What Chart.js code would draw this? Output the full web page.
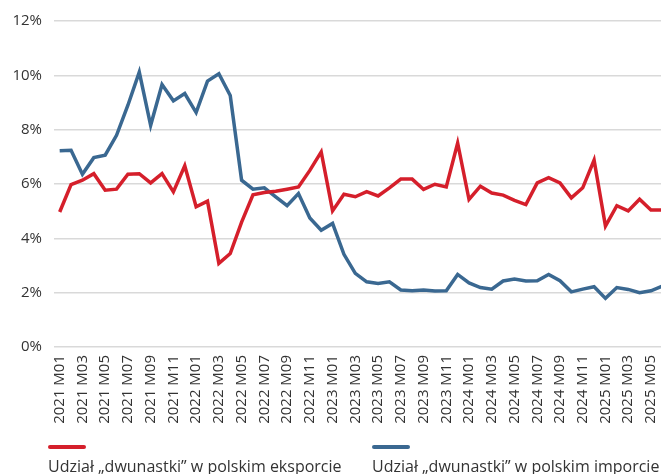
<!DOCTYPE html>
<html>
<head>
<meta charset="utf-8">
<script src="https://cdn.jsdelivr.net/npm/chart.js@4.4.1/dist/chart.umd.min.js"></script>
<style>
  html, body { margin: 0; padding: 0; background: #fff; overflow: hidden; }
  #wrap { position: relative; width: 661px; height: 474px; overflow: hidden; }
  #myChart { position: absolute; left: 0; top: 0; }
  .sw { position: absolute; top: 445px; width: 38px; height: 4px; border-radius: 2px; }
  .txt { position: absolute; top: 456px; font-family: 'Open Sans', sans-serif; font-size: 16px;
         line-height: 20px; color: #333; white-space: nowrap; }
</style>
</head>
<body>
<div id="wrap">
  <canvas id="myChart" width="668" height="474"></canvas>
  <div class="sw" style="left:48px;background:#d51f2b"></div>
  <div class="txt" style="left:48px">Udział „dwunastki” w polskim eksporcie</div>
  <div class="sw" style="left:372px;background:#3a6891"></div>
  <div class="txt" style="left:372px">Udział „dwunastki” w polskim imporcie</div>
</div>
<script>
// miesiące
const months = [
  '2021 M01', '2021 M02', '2021 M03', '2021 M04', '2021 M05', '2021 M06',
  '2021 M07', '2021 M08', '2021 M09', '2021 M10', '2021 M11', '2021 M12',
  '2022 M01', '2022 M02', '2022 M03', '2022 M04', '2022 M05', '2022 M06',
  '2022 M07', '2022 M08', '2022 M09', '2022 M10', '2022 M11', '2022 M12',
  '2023 M01', '2023 M02', '2023 M03', '2023 M04', '2023 M05', '2023 M06',
  '2023 M07', '2023 M08', '2023 M09', '2023 M10', '2023 M11', '2023 M12',
  '2024 M01', '2024 M02', '2024 M03', '2024 M04', '2024 M05', '2024 M06',
  '2024 M07', '2024 M08', '2024 M09', '2024 M10', '2024 M11', '2024 M12',
  '2025 M01', '2025 M02', '2025 M03', '2025 M04', '2025 M05', '2025 M06'
];

// udział w eksporcie (%)
const exportShare = [
  4.97, 5.98, 6.14, 6.38, 5.77, 5.81, 6.36, 6.38, 6.04, 6.38, 5.71, 6.67,
  5.16, 5.37, 3.08, 3.44, 4.60, 5.60, 5.69, 5.73, 5.81, 5.89, 6.50, 7.18,
  5.01, 5.62, 5.53, 5.72, 5.56, 5.86, 6.18, 6.18, 5.80, 5.99, 5.89, 7.51,
  5.43, 5.92, 5.67, 5.59, 5.40, 5.24, 6.04, 6.23, 6.04, 5.49, 5.86, 6.88,
  4.45, 5.20, 5.01, 5.44, 5.04, 5.04
];

// udział w imporcie (%)
const importShare = [
  7.22, 7.24, 6.36, 6.97, 7.06, 7.79, 8.90, 10.12, 8.16, 9.66, 9.06, 9.33,
  8.63, 9.79, 10.06, 9.26, 6.14, 5.81, 5.86, 5.53, 5.20, 5.65, 4.75, 4.30,
  4.55, 3.41, 2.71, 2.40, 2.34, 2.40, 2.10, 2.07, 2.10, 2.06, 2.07, 2.67,
  2.36, 2.19, 2.13, 2.43, 2.50, 2.43, 2.44, 2.67, 2.44, 2.03, 2.13, 2.22,
  1.79, 2.19, 2.12, 2.00, 2.07, 2.24
];

const yTicks = [0, 2, 4, 6, 8, 10, 12];

Chart.defaults.font.family = "'Open Sans', sans-serif";
Chart.defaults.color = '#333';

const ctx = document.getElementById('myChart');
new Chart(ctx, {
  type: 'line',
  data: {
    labels: months,
    datasets: [
      {
        label: 'Udział „dwunastki” w polskim eksporcie',
        data: exportShare,
        borderColor: '#d51f2b',
        borderWidth: 3.5,
        pointRadius: 0,
        tension: 0,
        fill: false
      },
      {
        label: 'Udział „dwunastki” w polskim imporcie',
        data: importShare,
        borderColor: '#3a6891',
        borderWidth: 3.5,
        pointRadius: 0,
        tension: 0,
        fill: false
      }
    ]
  },
  options: {
    responsive: false,
    animation: false,
    devicePixelRatio: 1,
    layout: { padding: { top: 21, left: 0, right: 0, bottom: 0 } },
    plugins: {
      legend: { display: false },
      tooltip: { enabled: false }
    },
    scales: {
      x: {
        offset: true,
        grid: { display: false, drawTicks: false },
        border: { display: false },
        // bez dodatkowego marginesu po prawej od obróconych etykiet
        afterFit: (scale) => {
          scale.height = 127;
          scale.paddingLeft = 0;
          scale.paddingRight = 0;
        },
        ticks: {
          autoSkip: false,
          minRotation: 90,
          maxRotation: 90,
          padding: 8,
          font: { size: 15 },
          callback: (value, index) => (index % 2 === 0 ? months[index] : '')
        }
      },
      y: {
        min: 0,
        max: 12,
        afterFit: (scale) => { scale.width = 54; },
        afterBuildTicks: (scale) => { scale.ticks = yTicks.map(v => ({ value: v })); },
        grid: { color: '#d9d9d9', lineWidth: 1.5, drawTicks: false },
        border: { display: false },
        ticks: {
          padding: 12,
          font: { size: 15 },
          callback: (value) => value + '%'
        }
      }
    }
  }
});
</script>
</body>
</html>
